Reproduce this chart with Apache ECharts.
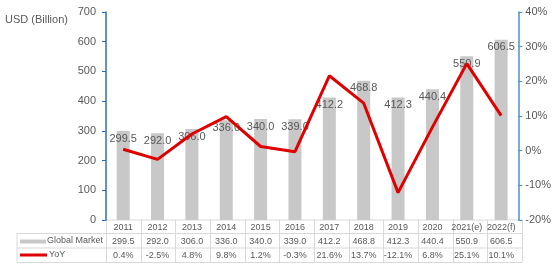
<!DOCTYPE html>
<html><head><meta charset="utf-8">
<script src="https://cdn.jsdelivr.net/npm/echarts@6/dist/echarts.min.js"></script>
<style>html,body{margin:0;padding:0;background:#fff}#c{width:554px;height:265px}</style>
</head><body><div id="c"></div>
<script>
var categories = ['2011','2012','2013','2014','2015','2016','2017','2018','2019','2020','2021(e)','2022(f)'];
var marketValues = [299.5,292.0,306.0,336.0,340.0,339.0,412.2,468.8,412.3,440.4,550.9,606.5];
var yoyValues = [0.4,-2.5,4.8,9.8,1.2,-0.3,21.6,13.7,-12.1,6.8,25.1,10.1];
var leftTicks = [0,100,200,300,400,500,600,700];
var rightTicks = [-20,-10,0,10,20,30,40];

var GL = 106, GR = 522, GT = 12, GB = 220;
var tableLeft = 17, rowB1 = 233.5, rowB2 = 248, rowB3 = 262.5;
var txt = '#595959', gridC = '#d9d9d9';
var font = 'Liberation Sans, Arial, sans-serif';

var n = categories.length, cw = (GR - GL) / n;
var g = [];
function ln(x1,y1,x2,y2){g.push({type:'line',shape:{x1:x1,y1:y1,x2:x2,y2:y2},style:{stroke:gridC,lineWidth:1},silent:true});}
ln(GL, GB, GR, GB); ln(tableLeft, rowB1, GR, rowB1); ln(tableLeft, rowB2, GR, rowB2); ln(tableLeft, rowB3, GR, rowB3);
ln(tableLeft, rowB1, tableLeft, rowB3);
for (var i = 0; i <= n; i++) { var x = Math.round(GL + i*cw) + 0.5; ln(x, GB, x, rowB3); }
g.push({type:'rect',shape:{x:20,y:239.5,width:26,height:4},style:{fill:'#c8c8c8'},silent:true});
g.push({type:'text',style:{text:'Global Market',x:103,y:241,textAlign:'right',textVerticalAlign:'middle',fill:txt,font:'9px '+font}});
g.push({type:'line',shape:{x1:20,y1:255,x2:47,y2:255},style:{stroke:'#e00000',lineWidth:3},silent:true});
g.push({type:'text',style:{text:'YoY',x:49,y:255,textAlign:'left',textVerticalAlign:'middle',fill:txt,font:'9px '+font}});
g.push({type:'text',style:{text:'USD (Billion)',x:5,y:20,textAlign:'left',textVerticalAlign:'middle',fill:txt,font:'11px '+font}});

var chart = echarts.init(document.getElementById('c'));
function xa(data, offset){
  return {type:'category',data:data,position:'bottom',offset:offset,
    axisLine:{show:false},axisTick:{show:false},
    axisLabel:{color:txt,fontSize:9,fontFamily:font,margin:3,interval:0}};
}
chart.setOption({
  animation:false,
  grid:{left:GL,right:554-GR,top:GT,bottom:265-GB,containLabel:false},
  graphic:g,
  xAxis:[xa(categories,0), xa(marketValues.map(function(v){return v.toFixed(1);}),14),
         xa(yoyValues.map(function(v){return v.toFixed(1)+'%';}),28)],
  yAxis:[
    {type:'value',min:leftTicks[0],max:leftTicks[leftTicks.length-1],interval:100,
     axisLine:{show:true,lineStyle:{color:'#2a6fb6',width:1.5}},axisTick:{show:true,length:4,lineStyle:{color:'#2a6fb6'}},
     splitLine:{show:false},axisLabel:{color:txt,fontSize:11,fontFamily:font,margin:10}},
    {type:'value',min:rightTicks[0],max:rightTicks[rightTicks.length-1],interval:10,
     axisLine:{show:true,lineStyle:{color:'#4b93c8',width:1.5}},axisTick:{show:true,length:4,lineStyle:{color:'#4b93c8'}},
     splitLine:{show:false},axisLabel:{color:txt,fontSize:11,fontFamily:font,margin:7,formatter:'{value}%'}}
  ],
  series:[
    {name:'Global Market',type:'bar',xAxisIndex:0,yAxisIndex:0,data:marketValues,barWidth:13,
     itemStyle:{color:'#c8c8c8'},
     label:{show:true,position:'insideTop',distance:2,color:txt,fontSize:11,fontFamily:font,
       formatter:function(p){return p.value.toFixed(1);}}},
    {name:'YoY',type:'line',xAxisIndex:0,yAxisIndex:1,data:yoyValues,symbol:'none',
     lineStyle:{color:'#e00000',width:3},z:5}
  ]
});
</script></body></html>
